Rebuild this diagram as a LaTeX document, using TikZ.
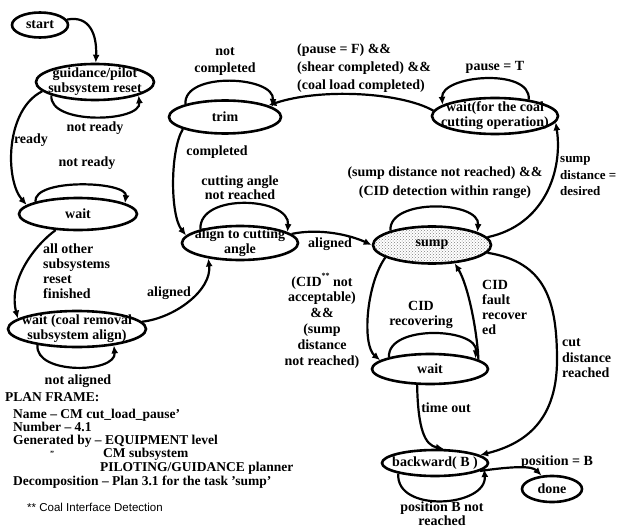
\documentclass[tikz,border=0pt]{standalone}
\usepackage{fontspec}
\setmainfont{Liberation Serif}
\setsansfont{Liberation Sans}
\usetikzlibrary{shapes.geometric,arrows.meta,patterns}
\begin{document}
\begin{tikzpicture}[x=1pt,y=-1pt,
  st/.style 2 args={draw, ellipse, line width=2.6pt, minimum width=#1, minimum height=#2, inner sep=0pt},
  txt/.style={font=\bfseries\fontsize{14}{15}\selectfont, inner sep=0pt, align=center},
  lbl/.style={inner sep=0pt, align=center, font=\bfseries\fontsize{14}{#1}\selectfont},
  lbl/.default=16,
  arr/.style={line width=2.2pt, -{Latex[length=8pt,width=7pt]}},
  pf/.style={font=\bfseries\fontsize{13.5}{13}\selectfont, inner sep=0pt, anchor=base west},
]
\useasboundingbox (0,0) rectangle (617,529);

% states
\node[st={56pt}{25pt}] (start) at (40,25) {};
\node[txt] (start-t) at (start) {start};
\node[st={118pt}{36pt}] (guide) at (95,82) {};
\node[txt] (guide-t) at (guide) {guidance/pilot\\subsystem reset};
\node[st={118pt}{32pt}] (waitL) at (78,214) {};
\node[txt] (waitL-t) at (waitL) {wait};
\node[st={138pt}{36pt}] (waitC) at (77,329) {};
\node[txt] (waitC-t) at (waitC) {wait (coal removal\\subsystem align)};
\node[st={112pt}{33pt}] (trim) at (225,117) {};
\node[txt] (trim-t) at (trim) {trim};
\node[st={126pt}{36pt}] (waitT) at (495,116) {};
\node[txt] (waitT-t) at (waitT) {wait(for the coal\\cutting operation)};
\node[st={116pt}{34pt}] (align) at (240,243) {};
\node[txt] (align-t) at (align) {align to cutting\\angle};
\node[st={118pt}{37pt}, preaction={fill=white}, pattern=crosshatch dots, pattern color=black!50] (sump) at (432,245) {};
\node[txt] (sump-t) at (sump) {sump};
\node[st={116pt}{30pt}] (waitB) at (430,369) {};
\node[txt] (waitB-t) at (waitB) {wait};
\node[st={106pt}{26pt}] (back) at (435,463) {};
\node[txt] (back-t) at (back) {backward( B )};
\node[st={60pt}{26pt}] (done) at (552,489) {};
\node[txt] (done-t) at (done) {done};

% connectors
\draw[arr] (start) .. controls (90,15) and (97,35) .. (guide);
\draw[arr] (guide.190) .. controls (5,110) and (5,180) .. (waitL.170);
\draw[arr] (guide.197) .. controls +(-3,30) and +(3,27) .. (guide.343);
\draw[arr] (waitL.164) .. controls +(-2,-24) and +(3,-22) .. (waitL.13);
\draw[arr] (waitL) .. controls (35,245) and (8,280) .. (waitC.170);
\draw[arr] (waitC.202) .. controls +(-3,30) and +(3,28) .. (waitC.336);
\draw[arr] (waitC) .. controls (175,318) and (212,290) .. (align.206);
\draw[arr] (trim.162) .. controls +(-2,-33) and +(3,-31) .. (trim.12);
\draw[arr] (trim.196) .. controls (170,150) and (170,215) .. (align.172);
\draw[arr] (waitT.175) .. controls (400,92) and (320,88) .. (trim.15);
\draw[arr] (waitT.26) .. controls +(3,-32) and +(-2,-30) .. (waitT.168);
\draw[arr] (align.161) .. controls +(-2,-37) and +(3,-35) .. (align.13);
\draw[arr] (align.10) .. controls (320,228) and (350,235) .. (sump.180);
\draw[arr] (sump.161) .. controls +(-2,-33) and +(3,-31) .. (sump.16);
\draw[arr] (sump.8) .. controls (545,225) and (563,170) .. (waitT.-6);
\draw[arr] (sump.195) .. controls (366,285) and (362,345) .. (waitB.170);
\draw[arr] (waitB.11) .. controls (477,330) and (468,285) .. (sump.-39);
\draw[arr] (waitB.164) .. controls +(-2,-33) and +(3,-31) .. (waitB.13);
\draw[arr] (waitB.231) .. controls (418,430) and (425,445) .. (back.58);
\draw[arr] (sump.-8) .. controls (545,262) and (557,300) .. (557,360) .. controls (557,425) and (520,445) .. (back.10);
\draw[arr] (back.196) .. controls +(-3,40) and +(3,38) .. (back.353);
\draw[arr] (back.-10) .. controls (515,466) and (532,466) .. (done.128);

% labels
\node[lbl] (l-nr1) at (95,128) {not ready};
\node[lbl] (l-ready) at (31,140) {ready};
\node[lbl] (l-nr2) at (87,163) {not ready};
\node[lbl=15, align=left, anchor=west] (l-allother) at (43,271) {all other\\subsystems\\reset\\finished};
\node[lbl] (l-al1) at (169,293) {aligned};
\node[lbl] (l-nal) at (78,381) {not aligned};
\node[lbl=17] (l-nc) at (225,61.5) {not\\completed};
\node[lbl=18, align=left, anchor=west] (l-pause) at (297,68) {(pause = F) \&\&\\(shear completed) \&\&\\(coal load completed)};
\node[lbl] (l-pT) at (495,67) {pause = T};
\node[inner sep=0pt, align=left, anchor=west, font=\bfseries\fontsize{13}{16.5}\selectfont] (l-sdd) at (560,176.5) {sump\\distance =\\desired};
\node[lbl] (l-comp) at (217,152) {completed};
\node[lbl=14] (l-can) at (240,188) {cutting angle\\not reached};
\node[lbl] (l-al2) at (330,244) {aligned};
\node[lbl=19] (l-sdnr) at (445,182.5) {(sump distance not reached) \&\&\\(CID detection within range)};
\node[lbl=15.8] (l-cid) at (322,320.5) {(CID\raisebox{8pt}{\fontsize{8}{8}\selectfont**} not\\acceptable)\\\&\&\\(sump\\distance\\not reached)};
\node[lbl=15, align=left, anchor=west] (l-cfr) at (482,307.5) {CID\\fault\\recover\\ed};
\node[lbl=15] (l-cidr) at (421,314.5) {CID\\recovering};
\node[lbl=15.5, align=left, anchor=west] (l-cdr) at (562,358.5) {cut\\distance\\reached};
\node[lbl] (l-to) at (446,408) {time out};
\node[lbl] (l-pB) at (557,462) {position = B};
\node[lbl=12.5] (l-pBnr) at (442,513.5) {position B not\\reached};

% plan frame
\node[pf] (pf1) at (5,401) {PLAN FRAME:};
\node[pf] (pf2) at (13,418) {Name -- CM cut\_load\_pause'};
\node[pf] (pf3) at (13,431) {Number -- 4.1};
\node[pf] (pf4) at (13,444) {Generated by -- EQUIPMENT level};
\node[pf, font=\bfseries\fontsize{8}{8}\selectfont] (pf5b) at (50,456) {''};
\node[pf] (pf5) at (103,457) {CM subsystem};
\node[pf] (pf6) at (100,471) {PILOTING/GUIDANCE planner};
\node[pf] (pf7) at (13,485) {Decomposition -- Plan 3.1 for the task 'sump'};
\node[pf, font=\sffamily\fontsize{11.5}{12}\selectfont] (pf8) at (27,511) {** Coal Interface Detection};
\end{tikzpicture}
\end{document}
